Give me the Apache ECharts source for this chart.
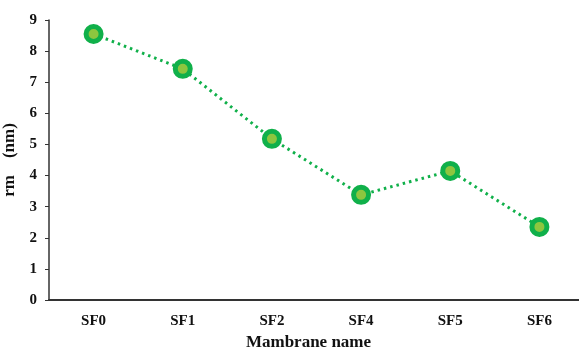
<!DOCTYPE html>
<html><head><meta charset="utf-8">
<script src="https://cdn.jsdelivr.net/npm/echarts@6/dist/echarts.min.js"></script>
<style>html,body{margin:0;padding:0;background:#fff}#c{width:579px;height:349px}</style>
</head><body><div id="c"></div>
<script>
const categories = ['SF0','SF1','SF2','SF4','SF5','SF6'];
const rmValues = [8.55, 7.43, 5.18, 3.38, 4.15, 2.35];
const yTicks = [0,1,2,3,4,5,6,7,8,9];

const chart = echarts.init(document.getElementById('c'), null, {renderer:'canvas'});
const font = '"Liberation Serif", "Times New Roman", serif';
chart.setOption({
  animation: false,
  grid: {left: 49, top: 20, width: 535, height: 280, containLabel: false, outerBoundsMode: 'none'},
  xAxis: {
    type: 'category', data: categories, boundaryGap: true,
    axisLine: {lineStyle: {color: '#333', width: 2}},
    axisTick: {show: false},
    axisLabel: {color: '#111', fontFamily: font, fontWeight: 'bold', fontSize: 15, margin: 14},
    name: 'Mambrane name', nameLocation: 'middle', nameGap: 30,
    nameTextStyle: {color: '#111', fontFamily: font, fontWeight: 'bold', fontSize: 17, padding: [0,16,0,0]}
  },
  yAxis: {
    type: 'value', min: yTicks[0], max: yTicks[yTicks.length-1], interval: 1,
    axisLine: {show: true, lineStyle: {color: '#333', width: 1.5}},
    axisTick: {show: true, length: 4, lineStyle: {color: '#333'}},
    splitLine: {show: false},
    axisLabel: {color: '#111', fontFamily: font, fontWeight: 'bold', fontSize: 15, margin: 12},
    name: 'rm    (nm)', nameLocation: 'middle', nameGap: 24, nameRotate: 90,
    nameTextStyle: {color: '#111', fontFamily: font, fontWeight: 'bold', fontSize: 17}
  },
  series: [{
    type: 'line', data: rmValues,
    symbol: 'circle', symbolSize: 15,
    itemStyle: {color: '#8dc63f', borderColor: '#10b04a', borderWidth: 5},
    lineStyle: {color: '#10b04a', width: 3, type: [2.5, 4]}
  }]
});
</script></body></html>
